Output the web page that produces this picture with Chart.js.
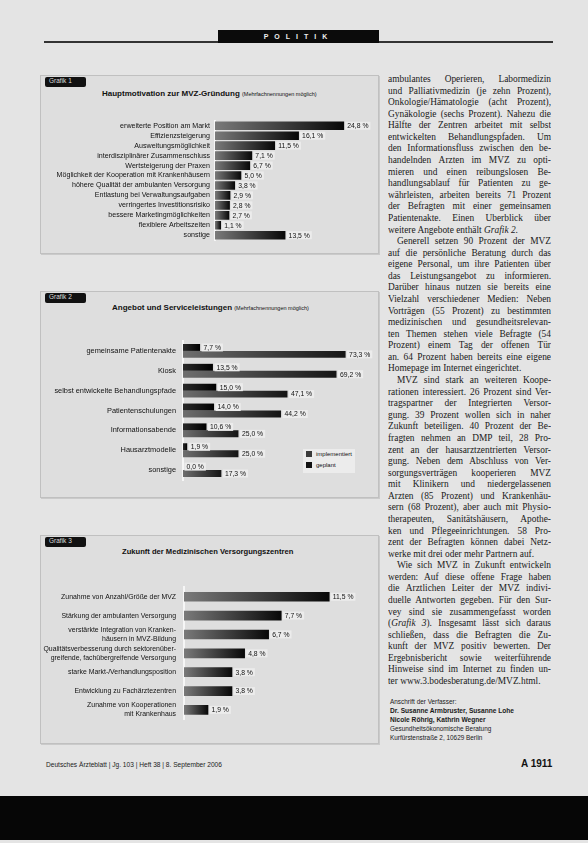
<!DOCTYPE html>
<html lang="de">
<head>
<meta charset="utf-8">
<title>MVZ – Grafiken</title>
<script src="https://cdn.jsdelivr.net/npm/chart.js@4.4.1/dist/chart.umd.min.js"></script>
<style>
  html, body { margin: 0; padding: 0; }
  body { width: 588px; height: 843px; position: relative; overflow: hidden; background: #e4e4e4; font-family: "Liberation Sans", Arial, sans-serif; color: #111; }
  .rule { position: absolute; left: 44px; top: 41px; width: 509px; height: 1.5px; background: #333; }
  .ressort { position: absolute; left: 218px; top: 30px; width: 161px; height: 13px; background: #0b0b0b; color: #eee; font: bold 7px "Liberation Sans"; letter-spacing: 6px; text-align: center; line-height: 13px; }
  .panel { position: absolute; left: 40px; width: 337px; background: #dedede; border: 1px solid #c0c0c0; box-shadow: 1px 1px 0 #cacaca; }
  .tag { position: absolute; left: 4px; top: 1px; width: 37px; height: 10px; line-height: 10px; padding-left: 4px; background: #111; color: #ddd; font: 6.5px "Liberation Sans"; border-radius: 2px; }
  .title { position: absolute; font: bold 8px "Liberation Sans"; white-space: nowrap; color: #111; }
  .title small { font-weight: normal; font-size: 5.5px; }
  canvas { position: absolute; }
  .legend { position: absolute; left: 303px; top: 449px; width: 52px; height: 24px; background: #ececec; font: 6px "Liberation Sans"; }
  .legend div { height: 11px; line-height: 11px; padding-left: 3px; white-space: nowrap; }
  .legend span { display: inline-block; width: 6px; height: 6px; margin-right: 4px; vertical-align: -1px; }
  .col { position: absolute; left: 388px; top: 74px; width: 163px; font: 9.4px "Liberation Serif", serif; color: #1a1a1a; }
  .col div { height: 11.58px; line-height: 11.58px; text-align: justify; text-align-last: justify; white-space: normal; overflow: hidden; }
  .col div.end { text-align-last: left; }
  .col div.ind { text-indent: 9px; }
  .addr { position: absolute; left: 390px; top: 697px; font: 6.4px "Liberation Sans"; line-height: 9px; color: #1a1a1a; }
  .addr b { font-size: 6.6px; }
  .foot { position: absolute; left: 46px; top: 761px; font: 6.6px "Liberation Sans"; color: #222; }
  .page { position: absolute; left: 521px; top: 758px; font: bold 10px "Liberation Sans"; color: #111; }
  .band { position: absolute; left: 0; top: 796px; width: 588px; height: 44px; background: #060606; }
</style>
</head>
<body>
<div class="rule"></div>
<div class="ressort">POLITIK</div>

<div class="panel" style="top:75px;height:177px"><div class="tag">Grafik 1</div></div>
<div class="title" style="left:102px;top:89px">Hauptmotivation zur MVZ-Gründung <small>(Mehrfachnennungen möglich)</small></div>
<canvas id="g1" width="338" height="139" style="left:40px;top:111px;width:338px;height:139px"></canvas>

<div class="panel" style="top:291px;height:205px"><div class="tag">Grafik 2</div></div>
<div class="title" style="left:112px;top:303px">Angebot und Serviceleistungen <small>(Mehrfachnennungen möglich)</small></div>
<canvas id="g2" width="338" height="163" style="left:40px;top:329px;width:338px;height:163px"></canvas>
<div class="legend" id="leg2"></div>

<div class="panel" style="top:535px;height:207px"><div class="tag">Grafik 3</div></div>
<div class="title" style="left:122px;top:547px;font-size:7.6px">Zukunft der Medizinischen Versorgungszentren</div>
<canvas id="g3" width="338" height="162" style="left:40px;top:570px;width:338px;height:162px"></canvas>

<div class="col" id="col"></div>
<div class="addr">Anschrift der Verfasser:<br><b>Dr. Susanne Armbruster, Susanne Lohe</b><br><b>Nicole Röhrig, Kathrin Wegner</b><br>Gesundheitsökonomische Beratung<br>Kurfürstenstraße 2, 10629 Berlin</div>

<div class="foot">Deutsches Ärzteblatt | Jg. 103 | Heft 38 | 8. September 2006</div>
<div class="page">A 1911</div>
<div class="band"></div>

<script>
// Grafik 1
const motivLabels = [
  'erweiterte Position am Markt',
  'Effizienzsteigerung',
  'Ausweitungsmöglichkeit',
  'interdisziplinärer Zusammenschluss',
  'Wertsteigerung der Praxen',
  'Möglichkeit der Kooperation mit Krankenhäusern',
  'höhere Qualität der ambulanten Versorgung',
  'Entlastung bei Verwaltungsaufgaben',
  'verringertes Investitionsrisiko',
  'bessere Marketingmöglichkeiten',
  'flexiblere Arbeitszeiten',
  'sonstige'
];
const motivValues = [24.8, 16.1, 11.5, 7.1, 6.7, 5.0, 3.8, 2.9, 2.8, 2.7, 1.1, 13.5];

// Grafik 2
const angebotLabels = [
  'gemeinsame Patientenakte',
  'Kiosk',
  'selbst entwickelte Behandlungspfade',
  'Patientenschulungen',
  'Informationsabende',
  'Hausarztmodelle',
  'sonstige'
];
const angebotGeplant = [7.7, 13.5, 15.0, 14.0, 10.6, 1.9, 0.0];
const angebotImplementiert = [73.3, 69.2, 47.1, 44.2, 25.0, 25.0, 17.3];

// Grafik 3
const zukunftLabels = [
  'Zunahme von Anzahl/Größe der MVZ',
  'Stärkung der ambulanten Versorgung',
  ['verstärkte Integration von Kranken-', 'häusern in MVZ-Bildung'],
  ['Qualitätsverbesserung durch sektorenüber-', 'greifende, fachübergreifende Versorgung'],
  'starke Markt-/Verhandlungsposition',
  'Entwicklung zu Fachärztezentren',
  ['Zunahme von Kooperationen', 'mit Krankenhaus']
];
const zukunftValues = [11.5, 7.7, 6.7, 4.8, 3.8, 3.8, 1.9];

// each bar runs from a lighter grey into black at its end
function barShade(light, dark) {
  return function (c) {
    const chart = c.chart;
    const x = chart.scales && chart.scales.x;
    if (!chart.chartArea || !x || c.raw === undefined) return dark;
    const x0 = x.getPixelForValue(0);
    const x1 = x.getPixelForValue(c.raw);
    if (!isFinite(x0) || !isFinite(x1) || x1 - x0 < 2) return dark;
    const g = chart.ctx.createLinearGradient(x0, 0, x1, 0);
    g.addColorStop(0, light);
    g.addColorStop(1, dark);
    return g;
  };
}

const valueLabels = {
  id: 'valueLabels',
  afterDatasetsDraw(chart) {
    const ctx = chart.ctx;
    ctx.save();
    ctx.font = '6.8px "Liberation Sans"';
    ctx.textBaseline = 'middle';
    chart.data.datasets.forEach((ds, i) => {
      chart.getDatasetMeta(i).data.forEach((bar, j) => {
        const txt = ds.data[j].toFixed(1).replace('.', ',') + ' %';
        const w = ctx.measureText(txt).width;
        const x = bar.x + 1.5;
        ctx.fillStyle = '#ececec';
        ctx.fillRect(x, bar.y - 4, w + 4, 8);
        ctx.fillStyle = '#111';
        ctx.fillText(txt, x + 2, bar.y + 0.5);
      });
    });
    ctx.restore();
  }
};

function baseOptions(max, axisWidth, pad, fontSize) {
  return {
    indexAxis: 'y',
    responsive: false,
    animation: false,
    layout: { padding: { right: 2 } },
    plugins: { legend: { display: false }, tooltip: { enabled: false } },
    scales: {
      x: { min: 0, max: max, display: false },
      y: {
        afterFit: s => { s.width = axisWidth; },
        grid: { display: false, drawTicks: false },
        border: { color: '#f6f6f6', width: 2 },
        ticks: {
          autoSkip: false,
          color: '#111',
          padding: pad,
          font: { family: 'Liberation Sans', size: fontSize, lineHeight: 1.35 }
        }
      }
    }
  };
}

new Chart(document.getElementById('g1'), {
  type: 'bar',
  data: {
    labels: motivLabels,
    datasets: [{ data: motivValues, backgroundColor: barShade('#7a7a7a', '#080808'), barThickness: 8 }]
  },
  options: baseOptions(31, 175, 5, 7.1),
  plugins: [valueLabels]
});

const chart2 = new Chart(document.getElementById('g2'), {
  type: 'bar',
  data: {
    labels: angebotLabels,
    datasets: [
      { label: 'geplant', data: angebotGeplant, backgroundColor: barShade('#2a2a2a', '#000000'),
        legendColor: '#111', barPercentage: 1, categoryPercentage: 0.7 },
      { label: 'implementiert', data: angebotImplementiert, backgroundColor: barShade('#6e6e6e', '#151515'),
        legendColor: '#3a3a3a', barPercentage: 1, categoryPercentage: 0.7 }
    ]
  },
  options: baseOptions(87, 143, 7, 7.4),
  plugins: [valueLabels]
});

// legend box, listed as in the print: implementiert first
const leg = document.getElementById('leg2');
chart2.data.datasets.slice().reverse().forEach(ds => {
  const row = document.createElement('div');
  row.innerHTML = '<span style="background:' + ds.legendColor + '"></span>' + ds.label;
  leg.appendChild(row);
});

new Chart(document.getElementById('g3'), {
  type: 'bar',
  data: {
    labels: zukunftLabels,
    datasets: [{ data: zukunftValues, backgroundColor: barShade('#7a7a7a', '#080808'), barThickness: 9 }]
  },
  options: baseOptions(15.2, 144, 8, 6.9),
  plugins: [valueLabels]
});

// article column, set line by line like the print
const lines = [
  'ambulantes Operieren, Labormedizin',
  'und Palliativmedizin (je zehn Prozent),',
  'Onkologie/Hämatologie (acht Prozent),',
  'Gynäkologie (sechs Prozent). Nahezu die',
  'Hälfte der Zentren arbeitet mit selbst',
  'entwickelten Behandlungspfaden. Um',
  'den Informationsfluss zwischen den be-',
  'handelnden Ärzten im MVZ zu opti-',
  'mieren und einen reibungslosen Be-',
  'handlungsablauf für Patienten zu ge-',
  'währleisten, arbeiten bereits 71 Prozent',
  'der Befragten mit einer gemeinsamen',
  'Patientenakte. Einen Überblick über',
  '|weitere Angebote enthält <i>Grafik 2</i>.',
  '>Generell setzen 90 Prozent der MVZ',
  'auf die persönliche Beratung durch das',
  'eigene Personal, um ihre Patienten über',
  'das Leistungsangebot zu informieren.',
  'Darüber hinaus nutzen sie bereits eine',
  'Vielzahl verschiedener Medien: Neben',
  'Vorträgen (55 Prozent) zu bestimmten',
  'medizinischen und gesundheitsrelevan-',
  'ten Themen stehen viele Befragte (54',
  'Prozent) einem Tag der offenen Tür',
  'an. 64 Prozent haben bereits eine eigene',
  '|Homepage im Internet eingerichtet.',
  '>MVZ sind stark an weiteren Koope-',
  'rationen interessiert. 26 Prozent sind Ver-',
  'tragspartner der Integrierten Versor-',
  'gung. 39 Prozent wollen sich in naher',
  'Zukunft beteiligen. 40 Prozent der Be-',
  'fragten nehmen an DMP teil, 28 Pro-',
  'zent an der hausarztzentrierten Versor-',
  'gung. Neben dem Abschluss von Ver-',
  'sorgungsverträgen kooperieren MVZ',
  'mit Klinikern und niedergelassenen',
  'Ärzten (85 Prozent) und Krankenhäu-',
  'sern (68 Prozent), aber auch mit Physio-',
  'therapeuten, Sanitätshäusern, Apothe-',
  'ken und Pflegeeinrichtungen. 58 Pro-',
  'zent der Befragten können dabei Netz-',
  '|werke mit drei oder mehr Partnern auf.',
  '>Wie sich MVZ in Zukunft entwickeln',
  'werden: Auf diese offene Frage haben',
  'die Ärztlichen Leiter der MVZ indivi-',
  'duelle Antworten gegeben. Für den Sur-',
  'vey sind sie zusammengefasst worden',
  '(<i>Grafik 3</i>). Insgesamt lässt sich daraus',
  'schließen, dass die Befragten die Zu-',
  'kunft der MVZ positiv bewerten. Der',
  'Ergebnisbericht sowie weiterführende',
  'Hinweise sind im Internet zu finden un-',
  '|ter www.3.bodesberatung.de/MVZ.html.'
];
const col = document.getElementById('col');
lines.forEach(t => {
  const d = document.createElement('div');
  if (t[0] === '|') { d.className = 'end'; t = t.slice(1); }
  else if (t[0] === '>') { d.className = 'ind'; t = t.slice(1); }
  d.innerHTML = t;
  col.appendChild(d);
});
</script>
</body>
</html>
